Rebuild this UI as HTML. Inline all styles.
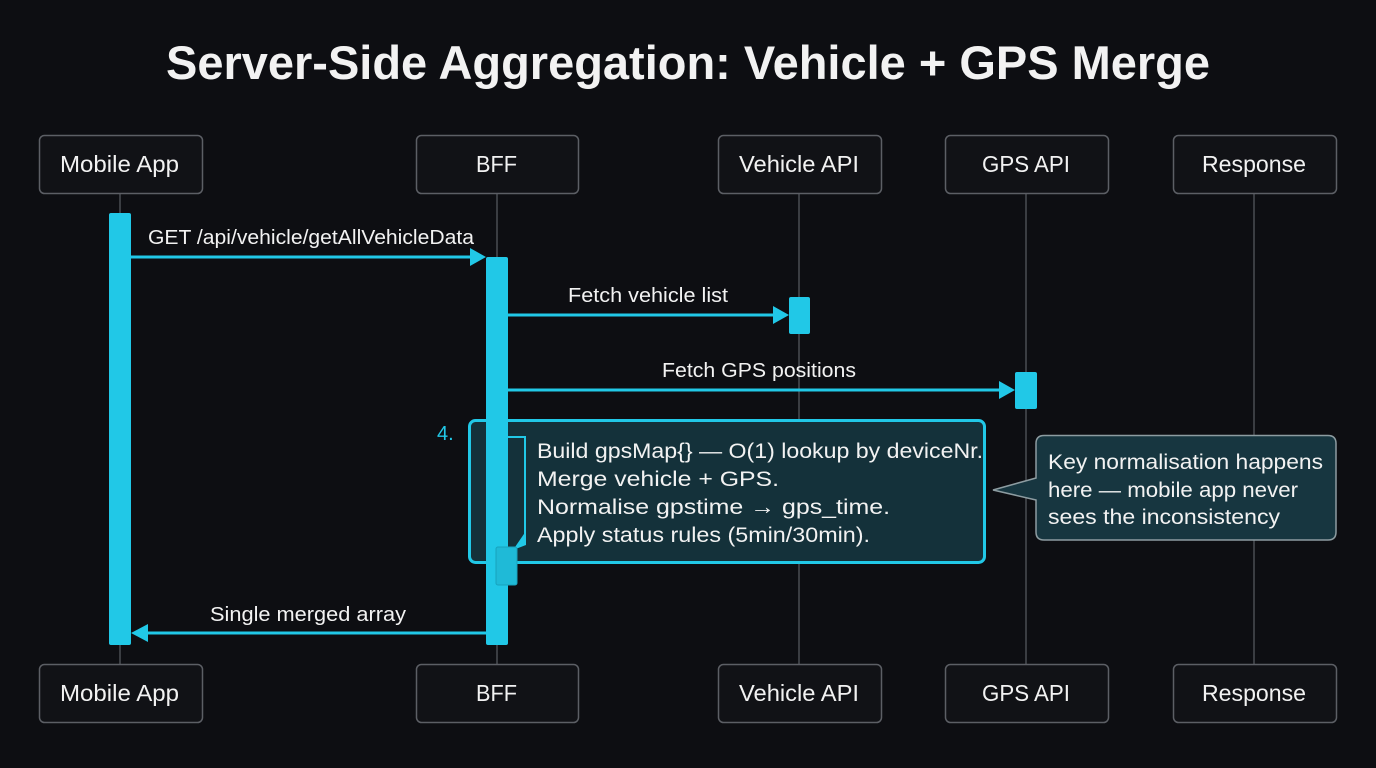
<!DOCTYPE html>
<html>
<head>
<meta charset="utf-8">
<style>
  html,body{margin:0;padding:0;background:#0d0e12;}
  svg{display:block;}
  text{font-family:"Liberation Sans", Arial, sans-serif;fill:#f2f2f2;}
</style>
</head>
<body>
<svg width="1376" height="768" viewBox="0 0 1376 768" xmlns="http://www.w3.org/2000/svg">
  <rect x="0" y="0" width="1376" height="768" fill="#0d0e12"/>

  <!-- Title -->
  <text x="166" y="79" font-size="47" font-weight="bold" textLength="1044" lengthAdjust="spacingAndGlyphs" fill="#ffffff">Server-Side Aggregation: Vehicle + GPS Merge</text>

  <!-- Lifelines -->
  <g stroke="#4a4d53" stroke-width="1.5">
    <line x1="120" y1="193" x2="120" y2="664"/>
    <line x1="497" y1="193" x2="497" y2="664"/>
    <line x1="799" y1="193" x2="799" y2="664"/>
    <line x1="1026" y1="193" x2="1026" y2="664"/>
    <line x1="1254" y1="193" x2="1254" y2="664"/>
  </g>

  <!-- Participant boxes -->
  <g fill="#111216" stroke="#5c5f65" stroke-width="1.5">
    <rect x="39.5" y="135.5" width="163" height="58" rx="5"/>
    <rect x="416.5" y="135.5" width="162" height="58" rx="5"/>
    <rect x="718.5" y="135.5" width="163" height="58" rx="5"/>
    <rect x="945.5" y="135.5" width="163" height="58" rx="5"/>
    <rect x="1173.5" y="135.5" width="163" height="58" rx="5"/>
    <rect x="39.5" y="664.5" width="163" height="58" rx="5"/>
    <rect x="416.5" y="664.5" width="162" height="58" rx="5"/>
    <rect x="718.5" y="664.5" width="163" height="58" rx="5"/>
    <rect x="945.5" y="664.5" width="163" height="58" rx="5"/>
    <rect x="1173.5" y="664.5" width="163" height="58" rx="5"/>
  </g>
  <g font-size="23">
    <text x="60" y="172" textLength="119" lengthAdjust="spacingAndGlyphs">Mobile App</text>
    <text x="476" y="172" textLength="41" lengthAdjust="spacingAndGlyphs">BFF</text>
    <text x="739" y="172" textLength="120" lengthAdjust="spacingAndGlyphs">Vehicle API</text>
    <text x="982" y="172" textLength="88" lengthAdjust="spacingAndGlyphs">GPS API</text>
    <text x="1202" y="172" textLength="104" lengthAdjust="spacingAndGlyphs">Response</text>

    <text x="60" y="701" textLength="119" lengthAdjust="spacingAndGlyphs">Mobile App</text>
    <text x="476" y="701" textLength="41" lengthAdjust="spacingAndGlyphs">BFF</text>
    <text x="739" y="701" textLength="120" lengthAdjust="spacingAndGlyphs">Vehicle API</text>
    <text x="982" y="701" textLength="88" lengthAdjust="spacingAndGlyphs">GPS API</text>
    <text x="1202" y="701" textLength="104" lengthAdjust="spacingAndGlyphs">Response</text>
  </g>

  <!-- Activation bars -->
  <g fill="#21c8e7">
    <rect x="109" y="213" width="22" height="432" rx="2"/>
    <rect x="789" y="297" width="21" height="37" rx="2"/>
    <rect x="1015" y="372" width="22" height="37" rx="2"/>
  </g>

  <!-- Messages -->
  <g stroke="#21c8e7" stroke-width="3" fill="none">
    <line x1="131" y1="257" x2="472" y2="257"/>
    <line x1="508" y1="315" x2="775" y2="315"/>
    <line x1="508" y1="390" x2="1001" y2="390"/>
    <line x1="486" y1="633" x2="146" y2="633"/>
  </g>
  <g fill="#21c8e7">
    <polygon points="470,248 486,257 470,266"/>
    <polygon points="773,306 789,315 773,324"/>
    <polygon points="999,381 1015,390 999,399"/>
    <polygon points="148,624 131,633 148,642"/>
  </g>
  <g font-size="20">
    <text x="148" y="244" textLength="326" lengthAdjust="spacingAndGlyphs">GET /api/vehicle/getAllVehicleData</text>
    <text x="568" y="302" textLength="160" lengthAdjust="spacingAndGlyphs">Fetch vehicle list</text>
    <text x="662" y="377" textLength="194" lengthAdjust="spacingAndGlyphs">Fetch GPS positions</text>
    <text x="210" y="621" textLength="196" lengthAdjust="spacingAndGlyphs">Single merged array</text>
  </g>

  <!-- Note box -->
  <rect x="469.5" y="420.5" width="515" height="142" rx="6" fill="#14313a" stroke="#21c8e7" stroke-width="3"/>
  <text x="437" y="440" font-size="20" style="fill:#21c8e7">4.</text>

  <!-- BFF activation bar -->
  <rect x="486" y="257" width="22" height="388" rx="2" fill="#21c8e7"/>

  <!-- Self loop -->
  <polyline points="508,437 525,437 525,540" fill="none" stroke="#21c8e7" stroke-width="2"/>
  <polygon points="526,531 526,545 513,550" fill="#21c8e7"/>
  <rect x="496" y="547" width="21" height="38" rx="2" fill="#1fbad7" stroke="#17a3bd" stroke-width="1"/>

  <g font-size="21.5">
    <text x="537" y="458" textLength="446" lengthAdjust="spacingAndGlyphs">Build gpsMap{} — O(1) lookup by deviceNr.</text>
    <text x="537" y="486" textLength="242" lengthAdjust="spacingAndGlyphs">Merge vehicle + GPS.</text>
    <text x="537" y="514" textLength="353" lengthAdjust="spacingAndGlyphs">Normalise gpstime → gps_time.</text>
    <text x="537" y="542" textLength="333" lengthAdjust="spacingAndGlyphs">Apply status rules (5min/30min).</text>
  </g>

  <!-- Callout -->
  <path d="M1044,435.5 H1328 Q1336,435.5 1336,443.5 V532 Q1336,540 1328,540 H1044 Q1036,540 1036,532 V500 L993,490 L1036,478 V443.5 Q1036,435.5 1044,435.5 Z" fill="#173640" stroke="#8d9ca1" stroke-width="1.5"/>
  <g font-size="21.5">
    <text x="1048" y="469" textLength="275" lengthAdjust="spacingAndGlyphs">Key normalisation happens</text>
    <text x="1048" y="497" textLength="250" lengthAdjust="spacingAndGlyphs">here — mobile app never</text>
    <text x="1048" y="524" textLength="232" lengthAdjust="spacingAndGlyphs">sees the inconsistency</text>
  </g>
</svg>
</body>
</html>
